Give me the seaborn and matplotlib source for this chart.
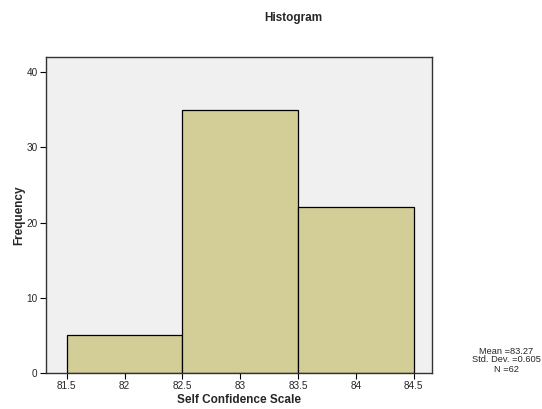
import matplotlib
matplotlib.use("Agg")
import matplotlib.pyplot as plt
import seaborn as sns
import numpy as np

# Data
bin_edges = [81.5, 82.5, 83.5, 84.5]
bin_centers = [82.0, 83.0, 84.0]
counts = [5, 35, 22]
x_ticks = [81.5, 82, 82.5, 83, 83.5, 84, 84.5]
x_tick_labels = ["81.5", "82", "82.5", "83", "83.5", "84", "84.5"]
y_ticks = [0, 10, 20, 30, 40]
stats_text = "Mean =83.27\nStd. Dev. =0.605\nN =62"

sns.set_style("ticks")
plt.rcParams['font.family'] = ['Liberation Sans', 'DejaVu Sans']

fig = plt.figure(figsize=(5.42, 4.09), dpi=100)
ax = fig.add_axes([46/542, 36/409, (432-46)/542, (373-57)/409])
ax.set_facecolor("#F0F0F0")

sns.histplot(x=bin_centers, weights=counts, bins=bin_edges, ax=ax,
             color="#D3CE97", alpha=1.0, edgecolor="black", linewidth=0.9)

ax.set_xlim(81.32, 84.66)
ax.set_ylim(0, 42)
ax.set_xticks(x_ticks)
ax.set_xticklabels(x_tick_labels)
ax.set_yticks(y_ticks)
ax.tick_params(axis='both', labelsize=7.2, length=4, width=0.8, color="black", pad=2)
for s in ax.spines.values():
    s.set_visible(True)
    s.set_color("#333333")
    s.set_linewidth(1.0)

ax.set_xlabel("Self Confidence Scale", fontsize=8.5, fontweight="bold", labelpad=2)
ax.set_ylabel("Frequency", fontsize=8.5, fontweight="bold", labelpad=1)
fig.text(293/542, 1 - 18/409, "Histogram", ha="center", va="center",
         fontsize=8.5, fontweight="bold")
fig.text(506/542, 1 - 360/409, stats_text, ha="center", va="center",
         fontsize=6.7, linespacing=1.0)

fig.savefig("out.png", dpi=100)
